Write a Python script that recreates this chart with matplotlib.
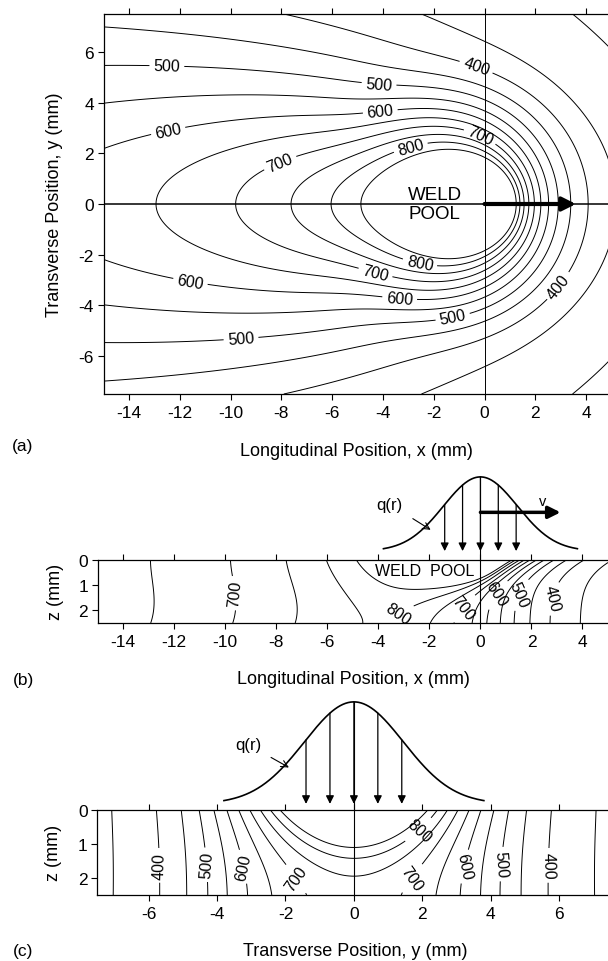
import numpy as np
import matplotlib
matplotlib.use("Agg")
import matplotlib.pyplot as plt

plt.rcParams.update({
    "font.family": ["Liberation Sans", "DejaVu Sans"], "font.size": 12.5,
    "axes.unicode_minus": False, "axes.linewidth": 0.9,
    "xtick.direction": "out", "ytick.direction": "out",
    "xtick.major.size": 4.5, "ytick.major.size": 4.5,
    "xtick.major.width": 0.8, "ytick.major.width": 0.8,
    "xtick.major.pad": 3.5, "ytick.major.pad": 2.5,
    "xtick.labelsize": 12.5, "ytick.labelsize": 12.5,
})

# isotherm levels (every 50 deg, 850 = weld pool boundary)
LEVELS = list(range(300, 851, 50))

# temperature field, tuned against the isotherm crossings
T_AMB, AMP, LAM, CORE = 280.0, 496.0, 0.2, 0.5      # moving line source (thin plate), top surface
C_FAR, R_C = 1.45, 5.0                               # lateral narrowing away from the pool
CORE_B, R_B = 2.0, 6.0                               # smoother source seen at the plate bottom
F_MAX, X_MID, S_F, FRAC_Y = 0.41, -2.32, 1.105, 3.5  # bottom deficit vs. the smooth source
DEPTH0, DEPTH_GROWTH, DEPTH_SOFT = 0.55, 0.55, 0.5   # penetration depth of the surface excess
KAPPA_Z, THICK = 0.8, 2.5                            # smoothing with depth, plate thickness
X_SECTION_C = -1.5                                   # x of the transverse section (c)

# contour label spots
LABELS_A = {400: [(-0.33, 5.41), (2.76, -3.12)],
            500: [(-12.5, 5.7), (-4.13, 5.05), (-9.57, -5.55), (-1.24, -4.53)],
            600: [(-12.5, 3.1), (-4.13, 3.9), (-11.6, -3.19), (-3.35, -3.83)],
            700: [(-8.07, 1.68), (-0.13, 2.78), (-4.33, -2.85)],
            800: [(-2.95, 2.39), (-2.56, -2.4)]}
LABELS_B = {700: [(-9.45, 1.3), (-0.72, 1.86)], 800: [(-3.47, 1.74)],
            600: [(0.9, 1.55)], 500: [(1.96, 1.55)], 400: [(3.14, 1.6)]}
LABELS_C = {400: [(-5.76, 1.63), (5.74, 1.63)], 500: [(-4.18, 1.6), (4.16, 1.58)],
            600: [(-2.92, 1.6), (2.85, 1.58)], 700: [(-1.35, 1.78), (1.32, 1.73)],
            800: [(1.95, 0.65)]}

# heat-source sketch q(r)
Q_SIGMA, Q_HALF = 1.45, 3.8
Q_ARROWS = [-1.4, -0.7, 0.0, 0.7, 1.4]
Q_BASE_B, Q_PEAK_B = -0.34, -3.27
Q_BASE_C, Q_PEAK_C = -0.18, -3.18
V_ARROW = (3.14, -1.87)
WELD_ARROW = 3.6


def k0(u):
    # modified Bessel K0 (Abramowitz & Stegun 9.8.5 / 9.8.6)
    u = np.asarray(u, float)
    out = np.empty_like(u)
    s = u <= 2
    a = u[s]; t = (a / 2) ** 2
    out[s] = -np.log(a / 2) * np.i0(a) + (-0.57721566 + t * (0.42278420 + t * (0.23069756 + t * (
        0.03488590 + t * (0.00262698 + t * (0.00010750 + t * 0.00000740))))))
    b = u[~s]; t = 2 / b
    out[~s] = np.exp(-b) / np.sqrt(b) * (1.25331414 + t * (-0.07832358 + t * (0.02189568 + t * (
        -0.01062446 + t * (0.00587872 + t * (-0.00251540 + t * 0.00053208))))))
    return out


def excess(x, y, core):
    r = np.sqrt(x ** 2 + y ** 2)
    yy = y * (1 + (C_FAR - 1) * (1 - np.exp(-(r / R_C) ** 4)))
    return AMP * np.exp(-LAM * x) * k0(LAM * np.sqrt(x ** 2 + yy ** 2 + core ** 2))


def temperature(x, y, z):
    x, y, z = [np.asarray(v, float) for v in np.broadcast_arrays(x, y, z)]
    r = np.sqrt(x ** 2 + y ** 2)
    # bottom of the plate: smoothed source minus a deficit that fades behind the pool
    frac = F_MAX / (1 + np.exp(-(x - X_MID) / S_F)) * np.exp(-(y / FRAC_Y) ** 2)
    sb = excess(x, y, np.sqrt(CORE ** 2 + CORE_B ** 2 * np.exp(-(r / R_B) ** 2))) * (1 - frac)
    # top-surface excess, spreading and sinking with depth
    sz = excess(x, y, np.sqrt(CORE ** 2 + (KAPPA_Z * z) ** 2))
    d = DEPTH0 + DEPTH_GROWTH * DEPTH_SOFT * np.log1p(np.exp(-x / DEPTH_SOFT))
    w = (np.exp(-z / d) - np.exp(-THICK / d)) / (1 - np.exp(-THICK / d))
    return T_AMB + sb + (sz - sb) * w


W, H = 608, 962
fig = plt.figure(figsize=(W / 100, H / 100), dpi=100)


def px_axes(left, top, right, bottom):
    return fig.add_axes([left / W, 1 - bottom / H, (right - left) / W, (bottom - top) / H])


def ftext(x, y, s, **kw):
    fig.text(x / W, 1 - y / H, s, ha="center", va="center", **kw)


def contours(ax, X, Y, T, labels):
    # one contour set per level so each label lands on its own isotherm
    for lev in LEVELS:
        cs = ax.contour(X, Y, T, levels=[lev], colors="k", linewidths=0.7)
        if lev in labels:
            cs.clabel(manual=labels[lev], fmt="%d", fontsize=11.5, inline=True, inline_spacing=4)


def style(ax):
    ax.spines["right"].set_visible(False)
    ax.tick_params(axis="x", top=True, labeltop=False)


def heat_source(ax, base, peak):
    q = lambda s: base + (peak - base) * np.exp(-s ** 2 / (2 * Q_SIGMA ** 2))
    s = np.linspace(-Q_HALF, Q_HALF, 200)
    ax.plot(s, q(s), color="k", lw=1.2, clip_on=False)
    ax.plot([0, 0], [peak, THICK], color="k", lw=0.8, clip_on=False)
    for xa in Q_ARROWS:
        ax.annotate("", xy=(xa, base), xytext=(xa, q(xa)), annotation_clip=False,
                    arrowprops=dict(arrowstyle="-|>", lw=0.9, color="k", mutation_scale=12,
                                    shrinkA=0, shrinkB=0))


# ---------- (a) plan view of the top surface ----------
ax = px_axes(103.5, 15, 608, 395)
xa = np.linspace(-15, 5, 801); ya = np.linspace(-7.5, 7.5, 601)
XA, YA = np.meshgrid(xa, ya)
contours(ax, XA, YA, temperature(XA, YA, 0.0), LABELS_A)
ax.axhline(0, color="k", lw=1.1)
ax.axvline(0, color="k", lw=0.7)
ax.annotate("", xy=(WELD_ARROW, 0), xytext=(0, 0),
            arrowprops=dict(arrowstyle="-|>", lw=3, color="k", mutation_scale=20, shrinkA=0, shrinkB=0))
ax.text(-1.97, 0, "WELD\nPOOL", ha="center", va="center", fontsize=13.5, linespacing=1.15)
ax.set_xlim(-15, 4.86); ax.set_ylim(-7.5, 7.5)
ax.set_xticks(range(-14, 5, 2)); ax.set_yticks(range(-6, 7, 2))
style(ax)
ftext(55, 205, "Transverse Position, y (mm)", rotation=90, fontsize=13)
ftext(356, 452, "Longitudinal Position, x (mm)", fontsize=13)
ftext(23, 447, "(a)", fontsize=12.5)

# ---------- (b) longitudinal section y = 0 ----------
ax = px_axes(97.7, 560.7, 608, 624)
xb = np.linspace(-15, 5, 801); zb = np.linspace(0, THICK, 201)
XB, ZB = np.meshgrid(xb, zb)
contours(ax, XB, ZB, temperature(XB, 0.0, ZB), LABELS_B)
ax.set_xlim(-15, 5); ax.set_ylim(THICK, 0)
ax.set_xticks(range(-14, 5, 2)); ax.set_yticks([0, 1, 2])
style(ax)
heat_source(ax, Q_BASE_B, Q_PEAK_B)
ax.annotate("", xy=V_ARROW, xytext=(0, V_ARROW[1]), annotation_clip=False,
            arrowprops=dict(arrowstyle="-|>", lw=2.5, color="k", mutation_scale=18, shrinkA=0, shrinkB=0))
ax.text(2.45, -2.3, "v", ha="center", va="center", fontsize=10.5, clip_on=False)
ax.annotate("q(r)", xy=(-1.95, -1.18), xytext=(-3.55, -2.19), ha="center", va="center",
            fontsize=12, annotation_clip=False,
            arrowprops=dict(arrowstyle="->", lw=0.8, color="k", shrinkA=6, shrinkB=0))
ax.text(-2.2, 0.42, "WELD  POOL", ha="center", va="center", fontsize=11.5)
ftext(55, 592, "z (mm)", rotation=90, fontsize=13)
ftext(353, 680, "Longitudinal Position, x (mm)", fontsize=13)
ftext(23, 680, "(b)", fontsize=12.5)

# ---------- (c) transverse section through the pool ----------
ax = px_axes(97.4, 811, 608, 896)
yc = np.linspace(-7.5, 7.5, 601); zc = np.linspace(0, THICK, 201)
YC, ZC = np.meshgrid(yc, zc)
contours(ax, YC, ZC, temperature(X_SECTION_C, YC, ZC), LABELS_C)
ax.set_xlim(-7.5, 7.43); ax.set_ylim(THICK, 0)
ax.set_xticks(range(-6, 7, 2)); ax.set_yticks([0, 1, 2])
style(ax)
heat_source(ax, Q_BASE_C, Q_PEAK_C)
ax.annotate("q(r)", xy=(-1.9, -1.25), xytext=(-3.1, -1.93), ha="center", va="center",
            fontsize=12, annotation_clip=False,
            arrowprops=dict(arrowstyle="->", lw=0.8, color="k", shrinkA=6, shrinkB=0))
ftext(54, 853, "z (mm)", rotation=90, fontsize=13)
ftext(355, 952, "Transverse Position, y (mm)", fontsize=13)
ftext(23, 952, "(c)", fontsize=12.5)

fig.savefig("out.png", dpi=100)
